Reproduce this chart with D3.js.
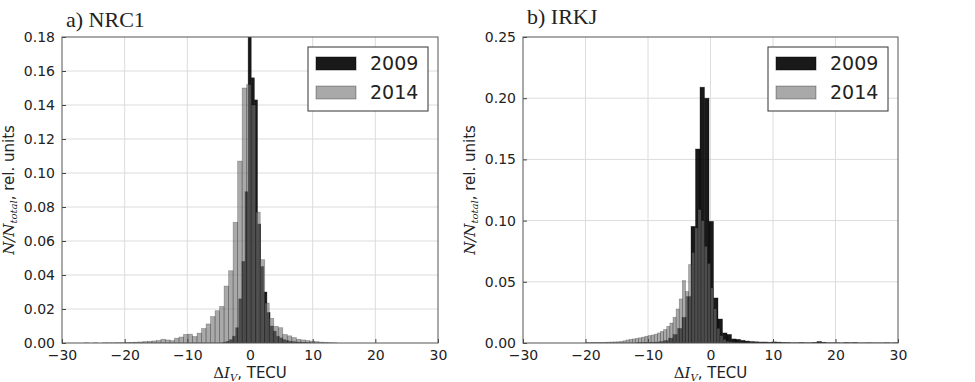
<html lang="en">
<head>
  <meta charset="UTF-8">
  <title>dIV histograms</title>
  <script src="https://cdn.jsdelivr.net/npm/d3@7"></script>
  <style>
    body { margin: 0; background: #fff; }
    text { font-family: "DejaVu Sans", sans-serif; fill: #222; }
  </style>
</head>
<body>
  <svg width="975" height="382"></svg>

  <script>
    // panel titles and legend entries
    const panelTitles = ["a) NRC1", "b) IRKJ"];
    const years = ["2009", "2014"];
    const xTicks = [-30, -20, -10, 0, 10, 20, 30];
    const yTicksNrc = [0, 0.02, 0.04, 0.06, 0.08, 0.10, 0.12, 0.14, 0.16, 0.18];
    const yTicksIrk = [0, 0.05, 0.10, 0.15, 0.20, 0.25];

    // NRC1, 2009 : bin start, bin width (TECU), relative counts
    const nrc2009Start = -4.3, nrc2009Width = 0.5;
    const nrc2009 = [0.0005, 0.001, 0.002, 0.004, 0.009, 0.026, 0.048, 0.089, 0.19, 0.156,
      0.143, 0.07, 0.045, 0.03, 0.018, 0.01, 0.007, 0.004, 0.003, 0.002, 0.0015, 0.001,
      0.0008, 0.0006, 0.0005, 0.0004, 0.0003, 0.0002];

    // NRC1, 2014
    const nrc2014Start = -26.45, nrc2014Width = 0.72;
    const nrc2014 = [0.0001, 0, 0.0001, 0, 0.0001, 0.0001, 0.0001, 0.0002, 0.0002,
      0.0003, 0.0004, 0.0005, 0.0006, 0.0008, 0.001, 0.0012, 0.0015, 0.0022, 0.0018,
      0.0014, 0.0028, 0.0035, 0.005, 0.0052, 0.0038, 0.0058, 0.0085, 0.0112, 0.0155,
      0.019, 0.0215, 0.0335, 0.0425, 0.071, 0.107, 0.150, 0.152, 0.14, 0.077, 0.049,
      0.0235, 0.0145, 0.0098, 0.009, 0.005, 0.0042, 0.0032, 0.0022, 0.0018, 0.0014,
      0.0011, 0.0008, 0.0005, 0.0003, 0.0002, 0.0001];

    // IRKJ, 2009
    const irk2009Start = -11.76, irk2009Width = 0.72;
    const irk2009 = [0.0003, 0.0004, 0.0005, 0.0006, 0.0008, 0.0012, 0.002, 0.004, 0.007,
      0.012, 0.021, 0.038, 0.0953, 0.1585, 0.209, 0.200, 0.0994, 0.0368, 0.0196, 0.0082,
      0.007, 0.0033, 0.003, 0.0022, 0.0016, 0.0012, 0.001, 0.0008, 0.0008, 0.0006,
      0.0009, 0.0007, 0.0004, 0.0003, 0.0002, 0.0002, 0.0003, 0.0002, 0.0002, 0.0004,
      0.0012, 0.0006, 0.0002, 0.0002, 0.0002, 0.0001, 0.0003, 0.0002, 0.0003, 0.0001,
      0.0001, 0.0002, 0.0001, 0.0001, 0.0001, 0.0002, 0.0001, 0.0002];

    // IRKJ, 2014
    const irk2014Start = -20, irk2014Width = 0.5;
    const irk2014 = [0.0003, 0.0003, 0.0004, 0.0004, 0.0005, 0.0005, 0.0006, 0.0007,
      0.0008, 0.0009, 0.001, 0.0012, 0.0018, 0.0025, 0.003, 0.0033, 0.0038, 0.0042,
      0.0048, 0.0055, 0.006, 0.0065, 0.0072, 0.0082, 0.0095, 0.011, 0.0136, 0.0163,
      0.021, 0.0278, 0.036, 0.051, 0.042, 0.064, 0.074, 0.094, 0.109, 0.100, 0.079,
      0.065, 0.045, 0.028, 0.012, 0.006, 0.003, 0.0015, 0.001, 0.0006, 0.0003];

    const svg = d3.select("svg");

    function toBins(start, width, values) {
      return values.map((v, i) => ({ x0: start + i * width, x1: start + (i + 1) * width, v }));
    }

    const panels = [
      {
        title: panelTitles[0], left: 62, right: 438, top: 37, bottom: 343,
        yMax: 0.18, yTicks: yTicksNrc, titleY: 27,
        s2009: toBins(nrc2009Start, nrc2009Width, nrc2009),
        s2014: toBins(nrc2014Start, nrc2014Width, nrc2014)
      },
      {
        title: panelTitles[1], left: 523, right: 898, top: 37, bottom: 343,
        yMax: 0.25, yTicks: yTicksIrk, titleY: 24,
        s2009: toBins(irk2009Start, irk2009Width, irk2009),
        s2014: toBins(irk2014Start, irk2014Width, irk2014)
      }
    ];

    const style2009 = { fill: "#000", op: 0.9 };
    const style2014 = { fill: "#707070", op: 0.6 };

    panels.forEach((p, pi) => {
      const x = d3.scaleLinear().domain([-30, 30]).range([p.left, p.right]);
      const y = d3.scaleLinear().domain([0, p.yMax]).range([p.bottom, p.top]);
      const g = svg.append("g");

      // grid
      g.append("g").selectAll("line").data(xTicks.slice(1, -1)).join("line")
        .attr("x1", d => x(d)).attr("x2", d => x(d))
        .attr("y1", p.top).attr("y2", p.bottom)
        .attr("stroke", "#dcdcdc").attr("stroke-width", 1);
      g.append("g").selectAll("line").data(p.yTicks.slice(1, -1)).join("line")
        .attr("x1", p.left).attr("x2", p.right)
        .attr("y1", d => y(d)).attr("y2", d => y(d))
        .attr("stroke", "#dcdcdc").attr("stroke-width", 1);

      // bars, clipped to the axes box
      const clipId = "clip" + pi;
      svg.append("clipPath").attr("id", clipId).append("rect")
        .attr("x", p.left).attr("y", p.top)
        .attr("width", p.right - p.left).attr("height", p.bottom - p.top);
      const bars = g.append("g").attr("clip-path", `url(#${clipId})`);
      [[p.s2009, style2009], [p.s2014, style2014]].forEach(([bins, st]) => {
        bars.append("g").selectAll("rect").data(bins.filter(b => b.v > 0)).join("rect")
          .attr("x", d => x(d.x0))
          .attr("width", d => x(d.x1) - x(d.x0))
          .attr("y", d => y(d.v))
          .attr("height", d => y(0) - y(d.v))
          .attr("fill", st.fill).attr("fill-opacity", st.op)
          .attr("stroke", "#000").attr("stroke-opacity", st.op * 0.5)
          .attr("stroke-width", 0.7);
      });

      // axes
      const xAxis = g.append("g").attr("transform", `translate(0,${p.bottom})`)
        .call(d3.axisBottom(x).tickValues(xTicks).tickSizeInner(-4).tickSizeOuter(0)
          .tickPadding(7).tickFormat(d => d < 0 ? "\u2212" + Math.abs(d) : d));
      const yAxis = g.append("g").attr("transform", `translate(${p.left},0)`)
        .call(d3.axisLeft(y).tickValues(p.yTicks).tickSizeInner(-4).tickSizeOuter(0)
          .tickPadding(7).tickFormat(d3.format(".2f")));
      [xAxis, yAxis].forEach(a => {
        a.select(".domain").remove();
        a.selectAll("line").attr("stroke", "#444");
        a.selectAll("text").style("font-size", "14px").attr("fill", "#222");
      });

      // frame
      g.append("rect")
        .attr("x", p.left).attr("y", p.top)
        .attr("width", p.right - p.left).attr("height", p.bottom - p.top)
        .attr("fill", "none").attr("stroke", "#555").attr("stroke-width", 1);

      // title
      g.append("text").attr("x", p.left + 4).attr("y", p.titleY)
        .style("font-family", "'Liberation Serif', serif").style("font-size", "22px")
        .text(p.title);

      // x label
      const xl = g.append("text")
        .attr("x", (p.left + p.right) / 2).attr("y", 378)
        .attr("text-anchor", "middle").style("font-size", "15px");
      xl.append("tspan").style("font-family", "'DejaVu Serif', serif").text("\u0394");
      xl.append("tspan").style("font-family", "'DejaVu Serif', serif")
        .style("font-style", "italic").text("I");
      xl.append("tspan").style("font-family", "'DejaVu Serif', serif")
        .style("font-style", "italic").style("font-size", "10px").attr("dy", 3).text("V");
      xl.append("tspan").attr("dy", -3).text(", TECU");

      // y label
      const yl = g.append("text")
        .attr("transform", `translate(${p.left - 48},${(p.top + p.bottom) / 2}) rotate(-90)`)
        .attr("text-anchor", "middle").style("font-size", "15px");
      yl.append("tspan").style("font-family", "'DejaVu Serif', serif")
        .style("font-style", "italic").text("N/N");
      yl.append("tspan").style("font-family", "'DejaVu Serif', serif")
        .style("font-style", "italic").style("font-size", "10px").attr("dy", 3).text("total");
      yl.append("tspan").attr("dy", -3).text(", rel. units");

      // legend
      const lx = p.right - 130, ly = p.top + 10;
      const lg = g.append("g");
      lg.append("rect").attr("x", lx).attr("y", ly).attr("width", 120).attr("height", 64)
        .attr("fill", "#fff").attr("stroke", "#333").attr("stroke-width", 1);
      [style2009, style2014].forEach((st, i) => {
        lg.append("rect").attr("x", lx + 8).attr("y", ly + 10 + i * 29)
          .attr("width", 40).attr("height", 13)
          .attr("fill", st.fill).attr("fill-opacity", st.op)
          .attr("stroke", "#000").attr("stroke-opacity", st.op * 0.5);
        lg.append("text").attr("x", lx + 62).attr("y", ly + 23 + i * 29)
          .style("font-size", "19px").text(years[i]);
      });
    });
  </script>
</body>
</html>
